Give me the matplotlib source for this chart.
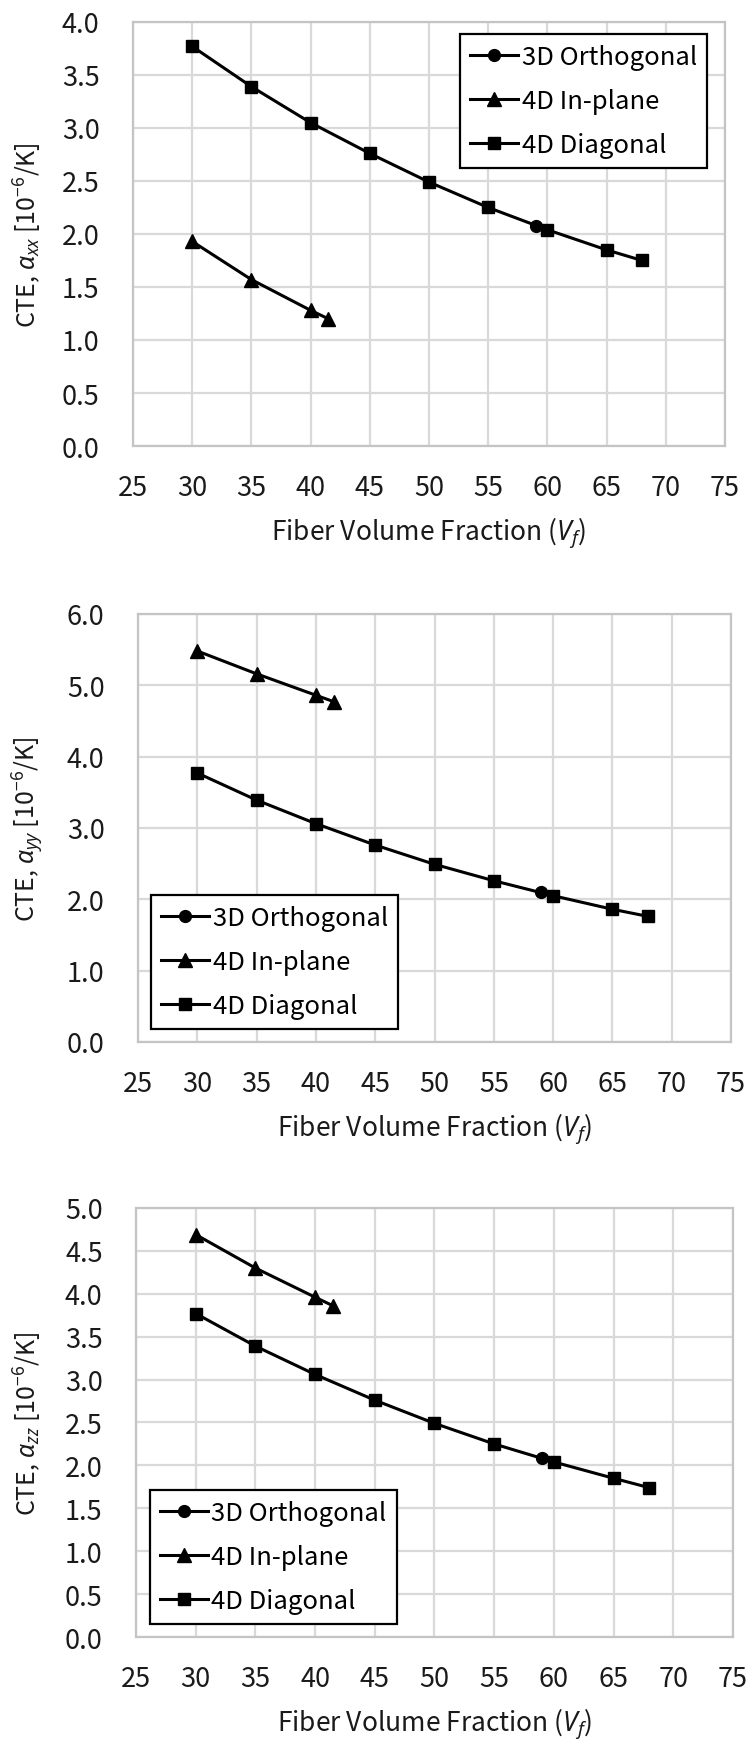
import matplotlib
matplotlib.use("Agg")
import matplotlib.pyplot as plt

plt.rcParams['font.family'] = ['Noto Sans CJK KR', 'DejaVu Sans']
plt.rcParams['mathtext.fontset'] = 'custom'
plt.rcParams['mathtext.rm'] = 'Noto Sans CJK KR'
plt.rcParams['mathtext.it'] = 'Noto Sans:italic'
plt.rcParams['mathtext.bf'] = 'Noto Sans CJK KR:bold'

# Fiber volume fractions (%)
vf_orth = [59]
vf_inplane = [30, 35, 40, 41.5]
vf_diag = [30, 35, 40, 45, 50, 55, 60, 65, 68]

# CTE alpha_xx [1e-6/K]
axx_orth = [2.08]
axx_inplane = [1.93, 1.57, 1.28, 1.20]
axx_diag = [3.77, 3.39, 3.05, 2.76, 2.49, 2.25, 2.04, 1.85, 1.75]

# CTE alpha_yy [1e-6/K]
ayy_orth = [2.10]
ayy_inplane = [5.48, 5.16, 4.86, 4.77]
ayy_diag = [3.77, 3.39, 3.06, 2.76, 2.49, 2.26, 2.05, 1.86, 1.76]

# CTE alpha_zz [1e-6/K]
azz_orth = [2.09]
azz_inplane = [4.69, 4.30, 3.96, 3.86]
azz_diag = [3.77, 3.39, 3.06, 2.76, 2.49, 2.25, 2.04, 1.85, 1.74]

series_labels = ['3D Orthogonal', '4D In-plane', '4D Diagonal']
ylabels = [r'CTE, $\alpha_{xx}$ [10$^{-6}$/K]',
           r'CTE, $\alpha_{yy}$ [10$^{-6}$/K]',
           r'CTE, $\alpha_{zz}$ [10$^{-6}$/K]']
xlabel = r'Fiber Volume Fraction ($V_f$)'

panels = [
    dict(orth=axx_orth, inpl=axx_inplane, diag=axx_diag, ymax=4.0, ystep=0.5,
         rect=[0.1773, 0.7431, 0.7893, 0.2437], ylab_x=-0.177, xlab_y=-0.203,
         leg=dict(loc='upper right', bbox_to_anchor=(0.970, 0.972))),
    dict(orth=ayy_orth, inpl=ayy_inplane, diag=ayy_diag, ymax=6.0, ystep=1.0,
         rect=[0.184, 0.4006, 0.7907, 0.246], ylab_x=-0.185, xlab_y=-0.201,
         leg=dict(loc='lower left', bbox_to_anchor=(0.022, 0.030))),
    dict(orth=azz_orth, inpl=azz_inplane, diag=azz_diag, ymax=5.0, ystep=0.5,
         rect=[0.1813, 0.0586, 0.796, 0.2466], ylab_x=-0.181, xlab_y=-0.200,
         leg=dict(loc='lower left', bbox_to_anchor=(0.023, 0.030))),
]

fig = plt.figure(figsize=(7.5, 17.4), dpi=100)
xticks = list(range(25, 80, 5))
text_color = '#1a1a1a'

for p, ylab in zip(panels, ylabels):
    ax = fig.add_axes(p['rect'])
    line_kw = dict(color='black', lw=2.2, zorder=3)
    ax.plot(vf_orth, p['orth'], marker='o', ms=8.5, label=series_labels[0], **line_kw)
    ax.plot(vf_inplane, p['inpl'], marker='^', ms=9.5, label=series_labels[1], **line_kw)
    ax.plot(vf_diag, p['diag'], marker='s', ms=9, label=series_labels[2], **line_kw)

    ax.set_xlim(25, 75)
    ax.set_ylim(0, p['ymax'])
    ax.set_xticks(xticks)
    n = int(round(p['ymax'] / p['ystep']))
    yt = [i * p['ystep'] for i in range(n + 1)]
    ax.set_yticks(yt)
    ax.set_yticklabels([f'{v:.1f}' for v in yt])
    ax.grid(True, color='#d9d9d9', lw=1.6, zorder=0)
    ax.set_axisbelow(True)
    for s in ax.spines.values():
        s.set_color('#c4c4c4')
        s.set_linewidth(1.6)
    ax.tick_params(axis='both', length=0, labelsize=19.5, colors=text_color)
    ax.tick_params(axis='y', pad=24)
    ax.tick_params(axis='x', pad=20)

    ax.set_ylabel(ylab, fontsize=18, color=text_color, va='center')
    ax.yaxis.set_label_coords(p['ylab_x'], 0.5)
    ax.set_xlabel(xlabel, fontsize=19, color=text_color, va='center')
    ax.xaxis.set_label_coords(0.5, p['xlab_y'])

    leg = ax.legend(fontsize=18.5, frameon=True, fancybox=False, framealpha=1,
                    edgecolor='black', handlelength=1.85, handletextpad=0.15,
                    labelspacing=0.7, borderpad=0.4, borderaxespad=0,
                    **p['leg'])
    leg.get_frame().set_linewidth(1.6)

fig.savefig('out.png', dpi=100, facecolor='white')
